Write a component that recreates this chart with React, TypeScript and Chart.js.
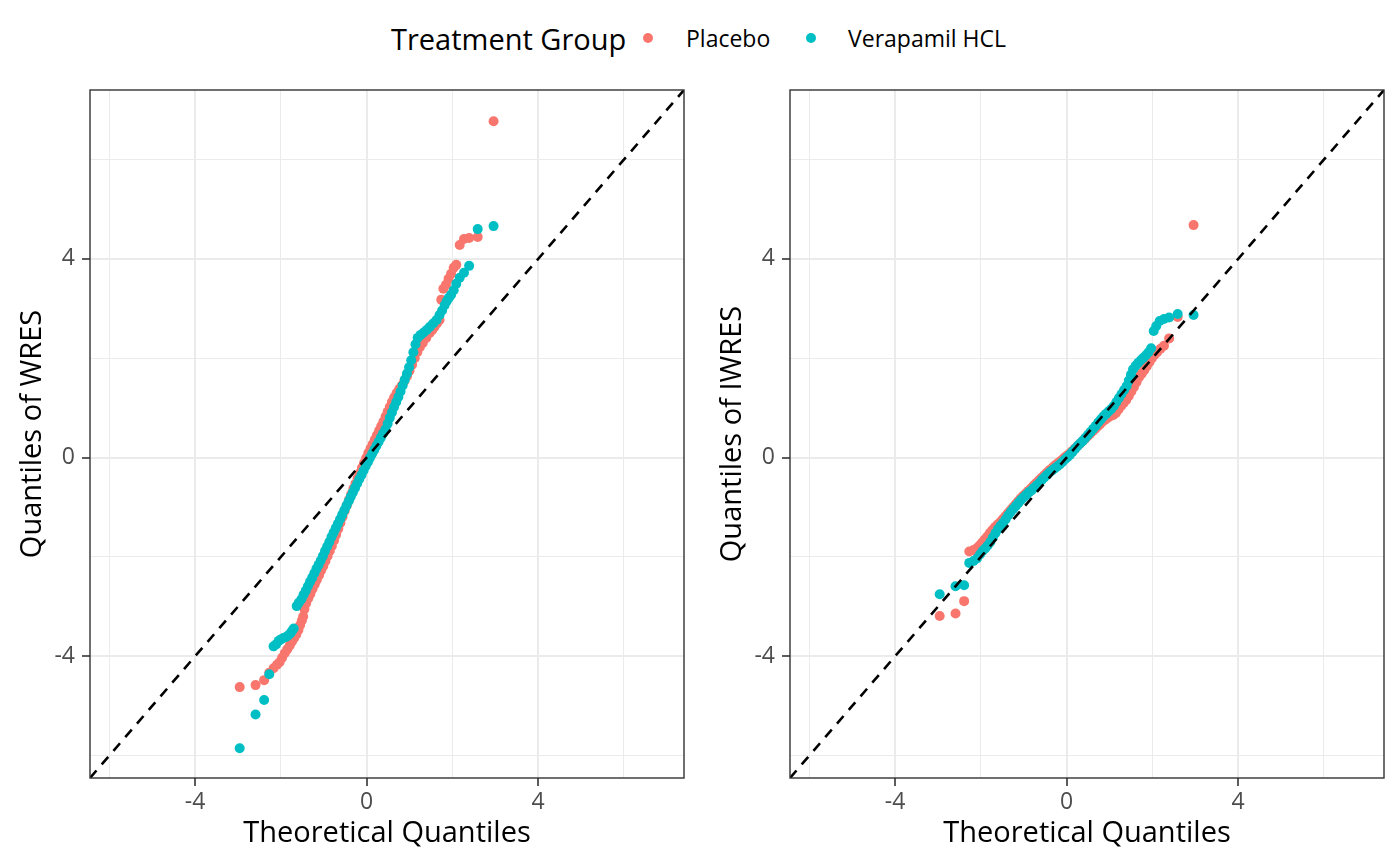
import React, { useEffect, useRef } from 'react';
import { Chart, registerables } from 'chart.js';

Chart.register(...registerables);

type P = [number, number];

const FONT = "'Open Sans', 'Noto Sans', sans-serif";

const legendTitle = 'Treatment Group';
const groups = ['Placebo', 'Verapamil HCL'];
const colors = ['#F8766D', '#00BFC4'];
const xTitle = 'Theoretical Quantiles';
const panelTitles = ['Quantiles of WRES', 'Quantiles of IWRES'];
const tickValues = [-6, -4, -2, 0, 2, 4, 6];
const labelledTicks = [-4, 0, 4];
const axisMin = -6.45;
const axisMax = 7.4;
const refLine: P[] = [[-7, -7], [8, 8]];

const wresPlacebo: P[] = [
  [-2.96, -4.62], [-2.59, -4.58], [-2.39, -4.48], [-2.27, -4.33], [-2.17, -4.24], [-2.09, -4.17],
  [-2.03, -4.12], [-1.97, -4.03], [-1.91, -3.94], [-1.85, -3.86], [-1.79, -3.78], [-1.74, -3.7],
  [-1.69, -3.63], [-1.64, -3.56], [-1.59, -3.47], [-1.55, -3.37], [-1.51, -3.28], [-1.48, -3.2],
  [-1.45, -3.05], [-1.41, -2.93], [-1.36, -2.83], [-1.31, -2.74], [-1.26, -2.64], [-1.21, -2.55],
  [-1.16, -2.46], [-1.11, -2.37], [-1.06, -2.27], [-1.01, -2.18], [-0.96, -2.08], [-0.91, -1.98],
  [-0.86, -1.88], [-0.81, -1.78], [-0.76, -1.67], [-0.71, -1.55], [-0.66, -1.43], [-0.61, -1.31],
  [-0.56, -1.19], [-0.51, -1.07], [-0.46, -0.96], [-0.41, -0.85], [-0.36, -0.74], [-0.31, -0.63],
  [-0.26, -0.52], [-0.21, -0.41], [-0.16, -0.31], [-0.11, -0.21], [-0.06, -0.11], [-0.01, -0.01],
  [0.04, 0.09], [0.09, 0.18], [0.14, 0.27], [0.19, 0.36], [0.24, 0.45], [0.29, 0.54],
  [0.34, 0.63], [0.39, 0.72], [0.44, 0.82], [0.49, 0.92], [0.54, 1.02], [0.59, 1.12],
  [0.64, 1.21], [0.7, 1.3], [0.76, 1.38], [0.82, 1.45], [0.88, 1.54], [0.94, 1.64],
  [1.0, 1.75], [1.06, 1.87], [1.12, 2.0], [1.18, 2.12], [1.24, 2.22], [1.31, 2.31],
  [1.39, 2.41], [1.47, 2.51], [1.53, 2.57], [1.58, 2.63], [1.64, 2.7], [1.7, 2.77],
  [1.74, 3.18], [1.79, 3.4], [1.85, 3.48], [1.91, 3.6], [1.97, 3.7], [2.03, 3.82],
  [2.09, 3.88], [2.17, 4.28], [2.27, 4.4], [2.39, 4.42], [2.59, 4.44], [2.96, 6.77],
];

const wresVerapamil: P[] = [
  [-2.96, -5.85], [-2.59, -5.17], [-2.39, -4.88], [-2.27, -4.36], [-2.17, -3.8], [-2.11, -3.76],
  [-2.05, -3.69], [-2.0, -3.66], [-1.94, -3.63], [-1.88, -3.61], [-1.83, -3.58], [-1.78, -3.54],
  [-1.74, -3.49], [-1.7, -3.44], [-1.63, -2.99], [-1.58, -2.92], [-1.52, -2.85], [-1.47, -2.76],
  [-1.42, -2.68], [-1.37, -2.59], [-1.32, -2.5], [-1.27, -2.42], [-1.22, -2.33], [-1.17, -2.24],
  [-1.12, -2.16], [-1.07, -2.07], [-1.02, -1.98], [-0.97, -1.88], [-0.92, -1.79], [-0.87, -1.7],
  [-0.82, -1.6], [-0.77, -1.51], [-0.72, -1.42], [-0.67, -1.33], [-0.62, -1.24], [-0.57, -1.15],
  [-0.52, -1.06], [-0.47, -0.97], [-0.42, -0.88], [-0.37, -0.79], [-0.32, -0.7], [-0.27, -0.61],
  [-0.22, -0.52], [-0.17, -0.43], [-0.12, -0.35], [-0.07, -0.26], [-0.02, -0.17], [0.03, -0.09],
  [0.08, 0.0], [0.13, 0.08], [0.18, 0.16], [0.23, 0.24], [0.28, 0.32], [0.33, 0.4],
  [0.38, 0.48], [0.44, 0.57], [0.49, 0.68], [0.54, 0.8], [0.59, 0.91], [0.64, 1.02],
  [0.69, 1.12], [0.74, 1.22], [0.79, 1.33], [0.84, 1.45], [0.89, 1.57], [0.94, 1.69],
  [0.99, 1.82], [1.04, 1.96], [1.09, 2.12], [1.14, 2.28], [1.19, 2.41], [1.26, 2.47],
  [1.33, 2.52], [1.4, 2.57], [1.47, 2.63], [1.55, 2.7], [1.63, 2.77], [1.7, 2.87],
  [1.76, 2.96], [1.82, 3.07], [1.87, 3.15], [1.92, 3.22], [1.97, 3.28], [2.03, 3.37],
  [2.09, 3.5], [2.17, 3.62], [2.27, 3.72], [2.39, 3.86], [2.59, 4.6], [2.96, 4.66],
];

const iwresPlacebo: P[] = [
  [-2.96, -3.19], [-2.59, -3.14], [-2.39, -2.89], [-2.27, -1.89], [-2.17, -1.86], [-2.09, -1.82],
  [-2.03, -1.77], [-1.97, -1.71], [-1.91, -1.65], [-1.85, -1.59], [-1.79, -1.52], [-1.73, -1.46],
  [-1.67, -1.4], [-1.61, -1.35], [-1.55, -1.3], [-1.49, -1.24], [-1.43, -1.18], [-1.37, -1.12],
  [-1.31, -1.06], [-1.25, -1.0], [-1.19, -0.94], [-1.13, -0.88], [-1.07, -0.82], [-1.01, -0.77],
  [-0.95, -0.72], [-0.89, -0.67], [-0.83, -0.62], [-0.77, -0.56], [-0.71, -0.51], [-0.65, -0.46],
  [-0.59, -0.41], [-0.53, -0.36], [-0.47, -0.31], [-0.41, -0.26], [-0.35, -0.22], [-0.29, -0.17],
  [-0.23, -0.13], [-0.17, -0.09], [-0.11, -0.05], [-0.05, 0.0], [0.01, 0.04], [0.07, 0.08],
  [0.13, 0.13], [0.19, 0.18], [0.25, 0.23], [0.31, 0.28], [0.37, 0.33], [0.43, 0.38],
  [0.49, 0.43], [0.55, 0.48], [0.61, 0.53], [0.67, 0.58], [0.73, 0.63], [0.79, 0.68],
  [0.85, 0.73], [0.91, 0.77], [0.97, 0.81], [1.03, 0.84], [1.09, 0.86], [1.15, 0.9],
  [1.21, 0.97], [1.27, 1.04], [1.33, 1.1], [1.39, 1.16], [1.45, 1.24], [1.51, 1.33],
  [1.57, 1.42], [1.63, 1.52], [1.69, 1.62], [1.75, 1.69], [1.81, 1.76], [1.87, 1.84],
  [1.93, 1.92], [1.99, 2.0], [2.05, 2.07], [2.11, 2.12], [2.19, 2.19], [2.27, 2.25],
  [2.39, 2.4], [2.59, 2.83], [2.96, 4.68],
];

const iwresVerapamil: P[] = [
  [-2.96, -2.75], [-2.59, -2.59], [-2.39, -2.57], [-2.27, -2.12], [-2.17, -2.08], [-2.09, -2.03],
  [-2.02, -1.95], [-1.96, -1.88], [-1.9, -1.83], [-1.84, -1.77], [-1.78, -1.7], [-1.72, -1.61],
  [-1.66, -1.52], [-1.6, -1.44], [-1.54, -1.37], [-1.48, -1.31], [-1.42, -1.24], [-1.36, -1.16],
  [-1.3, -1.09], [-1.24, -1.03], [-1.18, -0.97], [-1.12, -0.91], [-1.06, -0.85], [-1.0, -0.8],
  [-0.94, -0.75], [-0.88, -0.7], [-0.82, -0.66], [-0.76, -0.61], [-0.7, -0.56], [-0.64, -0.51],
  [-0.58, -0.45], [-0.52, -0.4], [-0.46, -0.35], [-0.4, -0.3], [-0.34, -0.26], [-0.28, -0.22],
  [-0.22, -0.18], [-0.16, -0.14], [-0.1, -0.09], [-0.04, -0.04], [0.02, 0.01], [0.08, 0.06],
  [0.14, 0.12], [0.2, 0.18], [0.26, 0.24], [0.32, 0.29], [0.38, 0.34], [0.44, 0.4],
  [0.5, 0.46], [0.56, 0.52], [0.62, 0.58], [0.68, 0.64], [0.74, 0.71], [0.8, 0.77],
  [0.86, 0.83], [0.92, 0.88], [0.98, 0.93], [1.04, 0.98], [1.1, 1.04], [1.16, 1.12],
  [1.22, 1.2], [1.28, 1.28], [1.34, 1.36], [1.4, 1.44], [1.45, 1.55], [1.5, 1.67],
  [1.55, 1.78], [1.61, 1.85], [1.67, 1.91], [1.73, 1.96], [1.79, 2.01], [1.85, 2.06],
  [1.91, 2.12], [1.97, 2.2], [2.03, 2.55], [2.09, 2.65], [2.17, 2.75], [2.27, 2.79],
  [2.39, 2.82], [2.59, 2.89], [2.96, 2.87],
];

const panelBorder = {
  id: 'panelBorder',
  afterDatasetsDraw(chart: any) {
    const { ctx, chartArea: a } = chart;
    ctx.save();
    ctx.strokeStyle = '#333333';
    ctx.lineWidth = 1.4;
    ctx.strokeRect(a.left, a.top, a.right - a.left, a.bottom - a.top);
    ctx.restore();
  },
};

const toPts = (arr: P[]) => arr.map(([x, y]) => ({ x, y }));

const isMajor = (v: number) => labelledTicks.includes(v);

function axisCommon() {
  return {
    type: 'linear' as const,
    min: axisMin,
    max: axisMax,
    afterBuildTicks: (s: any) => {
      s.ticks = tickValues.map((v) => ({ value: v }));
    },
    border: { display: false },
    grid: {
      color: '#EBEBEB',
      lineWidth: (c: any) => (c.tick && isMajor(c.tick.value) ? 2 : 1),
      tickColor: (c: any) => (c.tick && isMajor(c.tick.value) ? '#333333' : 'rgba(0,0,0,0)'),
      tickWidth: 1.6,
      tickLength: 8,
      drawTicks: true,
    },
  };
}

function QQPanel({ yTitle, placebo, verapamil, left }: { yTitle: string; placebo: P[]; verapamil: P[]; left: number }) {
  const ref = useRef<HTMLCanvasElement>(null);
  useEffect(() => {
    const tickFont = { family: FONT, size: 23 };
    const titleFont = { family: FONT, size: 29 };
    const chart = new Chart(ref.current as HTMLCanvasElement, {
      type: 'scatter',
      data: {
        datasets: [
          {
            label: 'identity',
            data: toPts(refLine),
            showLine: true,
            borderColor: '#000000',
            borderWidth: 2.6,
            borderDash: [10, 8],
            pointRadius: 0,
            fill: false,
            order: 0,
          } as any,
          {
            label: groups[1],
            data: toPts(verapamil),
            backgroundColor: colors[1],
            borderColor: colors[1],
            pointRadius: 5,
            pointBorderWidth: 0,
            order: 1,
          },
          {
            label: groups[0],
            data: toPts(placebo),
            backgroundColor: colors[0],
            borderColor: colors[0],
            pointRadius: 5,
            pointBorderWidth: 0,
            order: 2,
          },
        ],
      },
      options: {
        animation: false,
        responsive: false,
        events: [],
        layout: { padding: { top: 30, right: 16, bottom: 0, left: 0 } },
        plugins: { legend: { display: false }, tooltip: { enabled: false } },
        scales: {
          x: {
            ...axisCommon(),
            afterFit: (s: any) => {
              s.height = 88;
            },
            ticks: {
              autoSkip: false,
              maxRotation: 0,
              padding: 3,
              color: '#4D4D4D',
              font: tickFont,
              callback: (v: any) => (isMajor(Number(v)) ? String(v) : ''),
            },
            title: {
              display: true,
              text: xTitle,
              color: '#000000',
              font: titleFont,
              padding: { top: 0, bottom: 14.6 },
            },
          },
          y: {
            ...axisCommon(),
            afterFit: (s: any) => {
              s.width = 90;
            },
            ticks: {
              autoSkip: false,
              padding: 7,
              color: '#4D4D4D',
              font: tickFont,
              callback: (v: any) => (isMajor(Number(v)) ? String(v) : ''),
            },
            title: {
              display: true,
              text: yTitle,
              color: '#000000',
              font: titleFont,
              padding: { top: 15.6, bottom: 0 },
            },
          },
        } as any,
      },
      plugins: [panelBorder],
    });
    return () => chart.destroy();
  }, [yTitle, placebo, verapamil]);
  return (
    <canvas
      ref={ref}
      width={700}
      height={806}
      style={{ position: 'absolute', left, top: 60, width: 700, height: 806 }}
    />
  );
}

function Legend() {
  const textStyle = (size: number, leftPx: number): React.CSSProperties => ({
    position: 'absolute',
    left: leftPx,
    top: 38,
    transform: 'translateY(-50%)',
    fontSize: size,
    lineHeight: 1,
    whiteSpace: 'nowrap',
    color: '#000000',
    fontFamily: FONT,
  });
  const dot = (cx: number, color: string): React.CSSProperties => ({
    position: 'absolute',
    left: cx - 5,
    top: 38 - 5,
    width: 10,
    height: 10,
    borderRadius: '50%',
    background: color,
  });
  return (
    <div style={{ position: 'absolute', left: 0, top: 0, width: 1400, height: 60 }}>
      <div style={textStyle(29, 391)}>{legendTitle}</div>
      <div style={dot(648, colors[0])} />
      <div style={textStyle(23, 686)}>{groups[0]}</div>
      <div style={dot(811, colors[1])} />
      <div style={textStyle(23, 848)}>{groups[1]}</div>
    </div>
  );
}

export default function App() {
  return (
    <div
      style={{
        position: 'fixed',
        left: 0,
        top: 0,
        width: 1400,
        height: 866,
        background: '#ffffff',
        fontFamily: FONT,
        overflow: 'hidden',
      }}
    >
      <Legend />
      <QQPanel yTitle={panelTitles[0]} placebo={wresPlacebo} verapamil={wresVerapamil} left={0} />
      <QQPanel yTitle={panelTitles[1]} placebo={iwresPlacebo} verapamil={iwresVerapamil} left={700} />
    </div>
  );
}
